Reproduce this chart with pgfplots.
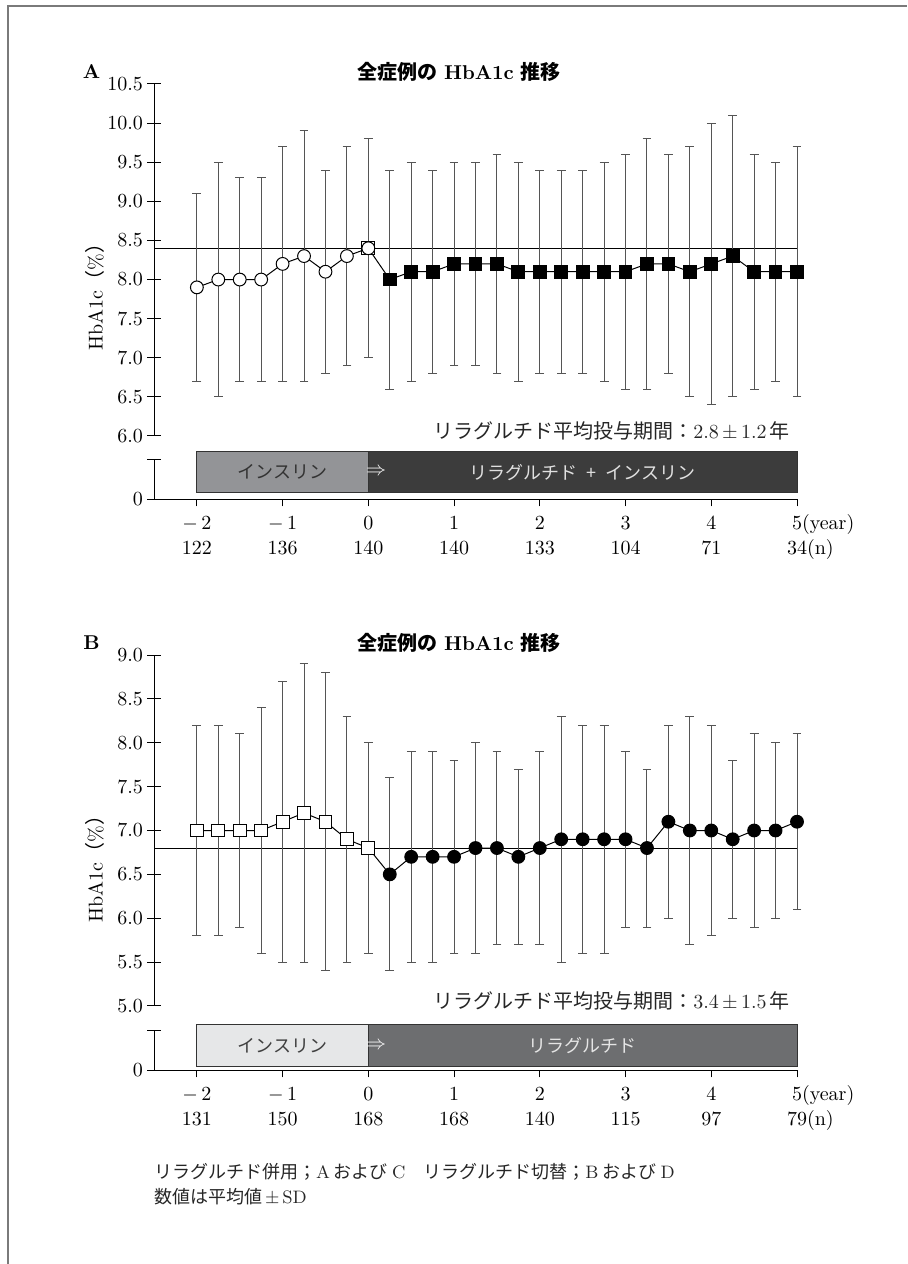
\documentclass[border=0pt]{standalone}
\usepackage{fontspec}
\usepackage{pgfplots}
\usepackage{pgfplotstable}
\pgfplotsset{compat=1.18}
\newfontfamily\jp{Noto Sans CJK JP}

\definecolor{boxAleft}{HTML}{939497}
\definecolor{boxAright}{HTML}{3C3C3C}
\definecolor{boxBleft}{HTML}{E6E7E8}
\definecolor{boxBright}{HTML}{6D6E70}
\definecolor{errgray}{HTML}{555555}
\definecolor{framegray}{HTML}{7A7A7A}

% two-row tick label: year above, number of cases below
\protected\def\tl#1#2{\begin{tabular}{@{}c@{}}#1\\#2\end{tabular}}

% Panel A: insulin period (open circles) and liraglutide + insulin (filled squares)
\pgfplotstableread{
x mean lo hi
-2 7.9 6.7 9.1
-1.75 8.0 6.5 9.5
-1.5 8.0 6.7 9.3
-1.25 8.0 6.7 9.3
-1 8.2 6.7 9.7
-0.75 8.3 6.7 9.9
-0.5 8.1 6.8 9.4
-0.25 8.3 6.9 9.7
0 8.4 7.0 9.8
}\insA
\pgfplotstableread{
x mean lo hi
0.25 8.0 6.6 9.4
0.5 8.1 6.7 9.5
0.75 8.1 6.8 9.4
1 8.2 6.9 9.5
1.25 8.2 6.9 9.5
1.5 8.2 6.8 9.6
1.75 8.1 6.7 9.5
2 8.1 6.8 9.4
2.25 8.1 6.8 9.4
2.5 8.1 6.8 9.4
2.75 8.1 6.7 9.5
3 8.1 6.6 9.6
3.25 8.2 6.6 9.8
3.5 8.2 6.8 9.6
3.75 8.1 6.5 9.7
4 8.2 6.4 10.0
4.25 8.3 6.5 10.1
4.5 8.1 6.6 9.6
4.75 8.1 6.7 9.5
5 8.1 6.5 9.7
}\liraA
% Panel B: insulin period (open squares) and liraglutide (filled circles)
\pgfplotstableread{
x mean lo hi
-2 7.0 5.8 8.2
-1.75 7.0 5.8 8.2
-1.5 7.0 5.9 8.1
-1.25 7.0 5.6 8.4
-1 7.1 5.5 8.7
-0.75 7.2 5.5 8.9
-0.5 7.1 5.4 8.8
-0.25 6.9 5.5 8.3
0 6.8 5.6 8.0
}\insB
\pgfplotstableread{
x mean lo hi
0.25 6.5 5.4 7.6
0.5 6.7 5.5 7.9
0.75 6.7 5.5 7.9
1 6.7 5.6 7.8
1.25 6.8 5.6 8.0
1.5 6.8 5.7 7.9
1.75 6.7 5.7 7.7
2 6.8 5.7 7.9
2.25 6.9 5.5 8.3
2.5 6.9 5.6 8.2
2.75 6.9 5.6 8.2
3 6.9 5.9 7.9
3.25 6.8 5.9 7.7
3.5 7.1 6.0 8.2
3.75 7.0 5.7 8.3
4 7.0 5.8 8.2
4.25 6.9 6.0 7.8
4.5 7.0 5.9 8.1
4.75 7.0 6.0 8.0
5 7.1 6.1 8.1
}\liraB

\pgfplotsset{
  common/.style={scale only axis, width=321.5pt, xmin=-2.5, xmax=5,
    axis line style={black, line width=0.5pt}, tick style={black, line width=0.5pt},
    clip=false, ticklabel style={font=\fontsize{10}{12}\selectfont}},
  sd/.style={error bars/.cd, y dir=both, y explicit,
    error bar style={errgray, line width=0.5pt},
    error mark options={rotate=90, mark size=2.2pt, errgray, line width=0.5pt}},
  series/.style={black, line width=0.5pt, mark size=3.2pt},
  yrule/.style={yticklabel style={xshift=1.5pt,
    /pgf/number format/.cd, fixed, fixed zerofill, precision=1}},
  xrule/.style={xtick={-2,...,5}, tick align=outside, major tick length=3.5pt,
    xticklabel style={font=\fontsize{10}{12.5}\selectfont, yshift=0.5pt}},
  /pgfplots/table/sdcols/.style={x=x, y=mean,
    y error plus expr=\thisrow{hi}-\thisrow{mean},
    y error minus expr=\thisrow{mean}-\thisrow{lo}},
}

\begin{document}
\begin{tikzpicture}
\path[use as bounding box] (0,0) rectangle (453.5pt,632pt);
\draw[framegray, line width=1pt] (4pt,0) -- (4pt,629pt) -- (453.5pt,629pt);

% ---------------- Panel A ----------------
\node[font=\bfseries\fontsize{10}{12}\selectfont] at (45.75pt,596pt) {A};
\node[font=\fontsize{10}{12}\selectfont] at (229.5pt,596pt) {{\jp\bfseries 全症例の} \textbf{HbA1c} {\jp\bfseries 推移}};
\node[rotate=90, font=\fontsize{10}{12}\selectfont] at (47.5pt,486pt) {HbA1c{\jp （}\%{\jp ）}};

\begin{axis}[common, at={(77pt,414pt)}, anchor=south west, height=176pt,
  ymin=6, ymax=10.5, axis x line=none, axis y line*=left,
  ytick={6,6.5,...,10.5}, tick align=center, major tick length=7pt, yrule]
  \addplot[black, line width=0.5pt, no markers] coordinates {(-2.5,8.4) (5,8.4)};
  \addplot[series, mark=square*, mark options={fill=black}, sd] table[sdcols] {\liraA};
  \addplot[series, no markers] coordinates {(0,8.4) (0.25,8.0)};
  \addplot[series, only marks, mark=square*, mark options={fill=white}] coordinates {(0,8.4)};
  \addplot[series, mark=*, mark options={fill=white}, sd] table[sdcols] {\insA};
\end{axis}
\node[anchor=east, font=\fontsize{10}{12}\selectfont, text=black!85] at (398.5pt,416.5pt)
  {{\jp リラグルチド平均投与期間：}2.8\,$\pm$\,1.2\,{\jp 年}};

\begin{axis}[common, at={(77pt,382.35pt)}, anchor=south west, height=19.65pt,
  ymin=0, ymax=1, axis x line=none, axis y line*=left,
  ytick={0,1}, yticklabels={0,{}}, tick align=center, major tick length=7pt,
  yticklabel style={xshift=1.5pt}]
  \addplot[draw=black!80, line width=0.5pt, fill=boxAleft] coordinates {(-2,0.17) (0,0.17) (0,1.21) (-2,1.21)} -- cycle;
  \addplot[draw=black!80, line width=0.5pt, fill=boxAright] coordinates {(0,0.17) (5,0.17) (5,1.21) (0,1.21)} -- cycle;
  \node[font=\jp\fontsize{9}{11}\selectfont, text=black!80] at (axis cs:-1,0.69) {インスリン};
  \node[anchor=west, inner sep=0pt, text=white] at (axis cs:-0.03,0.69) {$\Rightarrow$};
  \node[font=\jp\fontsize{9}{11}\selectfont, text=black!12] at (axis cs:2.5,0.69) {リラグルチド\enspace+\enspace インスリン};
\end{axis}
\begin{axis}[common, at={(77pt,382.35pt)}, anchor=south west, height=19.65pt,
  ymin=0, ymax=1, axis y line=none, axis x line*=bottom, xrule,
  xticklabels={\tl{$-$\,2}{122},\tl{$-$\,1}{136},\tl{0}{140},\tl{1}{140},\tl{2}{133},\tl{3}{104},\tl{4}{71},\tl{5\rlap{(year)}}{34\rlap{(n)}}}]
\end{axis}

% ---------------- Panel B ----------------
\node[font=\bfseries\fontsize{10}{12}\selectfont] at (45.75pt,310.5pt) {B};
\node[font=\fontsize{10}{12}\selectfont] at (229.5pt,310.5pt) {{\jp\bfseries 全症例の} \textbf{HbA1c} {\jp\bfseries 推移}};
\node[rotate=90, font=\fontsize{10}{12}\selectfont] at (47.5pt,200pt) {HbA1c{\jp （}\%{\jp ）}};

\begin{axis}[common, at={(77pt,129pt)}, anchor=south west, height=175.5pt,
  ymin=5, ymax=9, axis x line=none, axis y line*=left,
  ytick={5,5.5,...,9}, tick align=center, major tick length=7pt, yrule]
  \addplot[black, line width=0.5pt, no markers] coordinates {(-2.5,6.8) (5,6.8)};
  \addplot[series, mark=*, mark options={fill=black}, sd] table[sdcols] {\liraB};
  \addplot[series, no markers] coordinates {(0,6.8) (0.25,6.5)};
  \addplot[series, mark=square*, mark options={fill=white}, sd] table[sdcols] {\insB};
\end{axis}
\node[anchor=east, font=\fontsize{10}{12}\selectfont, text=black!85] at (398.5pt,131.5pt)
  {{\jp リラグルチド平均投与期間：}3.4\,$\pm$\,1.5\,{\jp 年}};

\begin{axis}[common, at={(77pt,96.85pt)}, anchor=south west, height=19.65pt,
  ymin=0, ymax=1, axis x line=none, axis y line*=left,
  ytick={0,1}, yticklabels={0,{}}, tick align=center, major tick length=7pt,
  yticklabel style={xshift=1.5pt}]
  \addplot[draw=black!80, line width=0.5pt, fill=boxBleft] coordinates {(-2,0.09) (0,0.09) (0,1.17) (-2,1.17)} -- cycle;
  \addplot[draw=black!80, line width=0.5pt, fill=boxBright] coordinates {(0,0.09) (5,0.09) (5,1.17) (0,1.17)} -- cycle;
  \node[font=\jp\fontsize{9}{11}\selectfont, text=black!75] at (axis cs:-1,0.63) {インスリン};
  \node[anchor=west, inner sep=0pt, text=white] at (axis cs:-0.03,0.63) {$\Rightarrow$};
  \node[font=\jp\fontsize{9}{11}\selectfont, text=black!10] at (axis cs:2.5,0.63) {リラグルチド};
\end{axis}
\begin{axis}[common, at={(77pt,96.85pt)}, anchor=south west, height=19.65pt,
  ymin=0, ymax=1, axis y line=none, axis x line*=bottom, xrule,
  xticklabels={\tl{$-$\,2}{131},\tl{$-$\,1}{150},\tl{0}{168},\tl{1}{168},\tl{2}{140},\tl{3}{115},\tl{4}{97},\tl{5\rlap{(year)}}{79\rlap{(n)}}}]
\end{axis}

% ---------------- Notes ----------------
\node[anchor=west, font=\jp\fontsize{9}{12}\selectfont, text=black!85] at (73.5pt,46pt)
  {リラグルチド併用；{\rmfamily A} および {\rmfamily C}　リラグルチド切替；{\rmfamily B} および {\rmfamily D}};
\node[anchor=west, font=\jp\fontsize{9}{12}\selectfont, text=black!85] at (73.5pt,33.5pt)
  {数値は平均値{\rmfamily\,$\pm$\,SD}};
\end{tikzpicture}
\end{document}
